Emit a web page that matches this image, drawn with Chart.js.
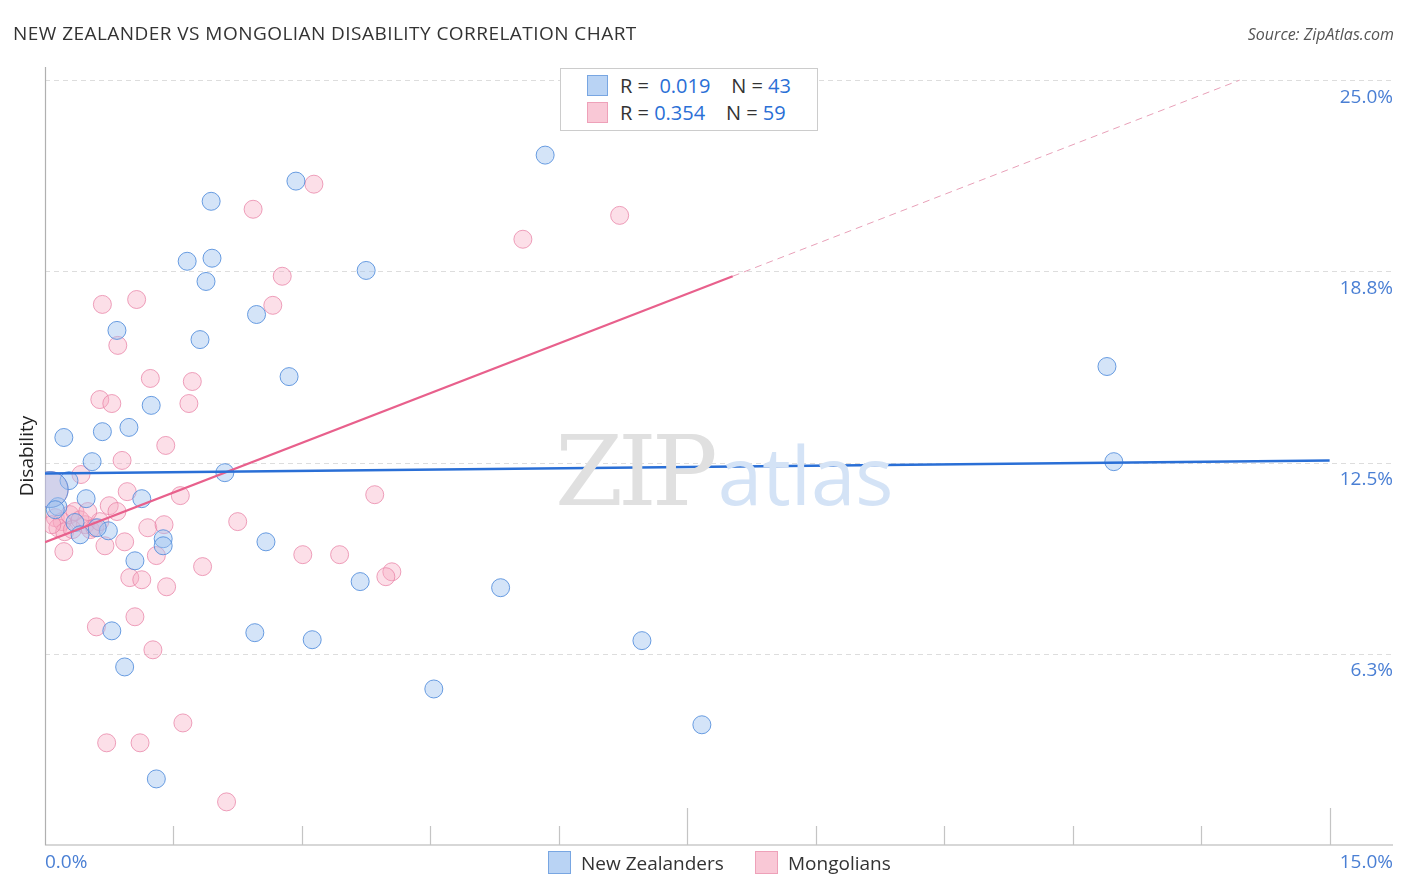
<!DOCTYPE html>
<html><head><meta charset="utf-8">
<script src="https://cdn.jsdelivr.net/npm/chart.js@4.4.0/dist/chart.umd.min.js"></script>
<style>
html,body{margin:0;padding:0;background:#fff;width:1406px;height:892px;overflow:hidden;font-family:"Open Sans",sans-serif;}
#wrap{position:absolute;left:0;top:0;width:1406px;height:892px;}
.abs{position:absolute;white-space:nowrap;}
#title{left:13px;top:20px;font-size:19px;color:#333;letter-spacing:0.45px;}
#source{right:12px;top:23px;font-size:16px;color:#555;font-style:italic;}
#stats{left:560px;top:68px;width:256px;height:61px;border:1px solid #ccc;background:#fff;}
.row{position:absolute;left:26px;font-size:20px;color:#333;}
.sq{display:inline-block;width:19px;height:19px;vertical-align:-3px;margin-right:12px;}
.v{color:#2a6fd6;}
#wm{left:555px;top:400px;font-size:98px;}
#legend{left:0;top:850px;width:1406px;}
.li{position:absolute;font-size:19px;color:#333;}
.lsq{display:inline-block;width:21px;height:21px;vertical-align:-4px;margin-right:10px;}
</style></head>
<body><div id="wrap">
<canvas id="c" width="1406" height="892"></canvas>
<div id="wm" class="abs"><span style="font-family:'DejaVu Serif',serif;color:#e0e0e0;letter-spacing:-5px;">ZIP</span><span style="font-family:'Open Sans',sans-serif;color:#d4e3f6;font-weight:400;font-size:80px;margin-left:5px;">atlas</span></div>
<div id="title" class="abs">NEW ZEALANDER VS MONGOLIAN DISABILITY CORRELATION CHART</div>
<div id="source" class="abs">Source: ZipAtlas.com</div>
<div id="stats" class="abs">
 <div class="row" style="top:3px;"><span class="sq" style="background:#b9d3f4;border:1px solid #78a6e2;"></span>R = &nbsp;<span class="v">0.019</span>&nbsp;&nbsp;&nbsp; N = <span class="v">43</span></div>
 <div class="row" style="top:30px;"><span class="sq" style="background:#f9c8d6;border:1px solid #eea1b9;"></span>R = <span class="v">0.354</span>&nbsp;&nbsp;&nbsp; N = <span class="v">59</span></div>
</div>
<div id="legend" class="abs">
 <div class="li" style="left:548px;"><span class="lsq" style="background:#b9d3f4;border:1px solid #78a6e2;"></span>New Zealanders</div>
 <div class="li" style="left:755px;"><span class="lsq" style="background:#f9c8d6;border:1px solid #eea1b9;"></span>Mongolians</div>
</div>
</div>
<script>
// ---- data (percent) ----
const nzX = [5.84,2.93,1.94,1.66,1.95,1.88,3.75,0.84,1.81,2.47,12.40,2.85,1.24,0.22,0.67,0.98,0.55,2.10,12.48,0.28,0.48,1.13,0.15,0.35,0.74,0.41,1.38,1.38,2.58,1.05,3.68,5.32,0.78,2.45,3.12,6.97,0.93,4.54,7.67,1.30,0.06,0.12,0.61];
const nzY = [22.55,21.70,21.04,19.08,19.18,18.42,18.78,16.82,16.52,17.34,15.64,15.31,14.37,13.32,13.51,13.65,12.53,12.17,12.53,11.91,11.32,11.32,11.06,10.54,10.27,10.14,10.01,9.78,9.91,9.29,8.61,8.41,7.00,6.94,6.71,6.68,5.82,5.10,3.93,2.16,11.62,10.96,10.37];
const nzR = [9,9,9,9,9,9,9,9,9,9,9,9,9,9,9,9,9,9,9,9,9,9,9,9,9,9,9,9,9,9,9,9,9,9,9,9,9,9,9,9,18,9,9];
const mnX = [3.14,2.43,6.71,5.58,2.77,2.66,0.67,1.07,0.85,1.23,1.72,0.64,0.78,1.68,1.41,0.90,0.42,0.96,1.58,3.85,0.75,0.84,2.25,1.20,1.39,0.70,0.93,1.30,0.22,1.84,3.01,3.44,0.99,1.13,1.42,1.05,0.60,1.26,1.61,0.72,1.11,2.12,4.05,3.98,0.06,0.12,0.20,0.29,0.35,0.47,0.53,0.15,0.23,0.58,0.64,0.32,0.08,0.41,0.50];
const mnY = [21.60,20.78,20.58,19.80,18.59,17.64,17.67,17.83,16.33,15.25,15.15,14.56,14.43,14.43,13.06,12.57,12.11,11.55,11.42,11.45,11.09,10.90,10.57,10.37,10.47,9.78,9.91,9.46,9.59,9.10,9.49,9.49,8.74,8.67,8.44,7.46,7.13,6.38,3.99,3.34,3.34,1.41,8.93,8.77,11.62,10.70,10.57,10.80,10.90,10.47,10.31,10.37,10.24,10.37,10.57,10.31,10.47,10.63,10.90];
const mnR = mnX.map((v,i)=> i===44 ? 18 : 9);
const nzTrendX = [0, 15];
const nzTrendY = [12.14, 12.57];
const mnTrendX = [0, 8.03];
const mnTrendY = [9.90, 18.59];
const mnDashX = [8.03, 13.95];
const mnDashY = [18.59, 25.0];
const yTicks = [6.25, 12.5, 18.75, 25.0];
const yTickLabels = ["6.3%", "12.5%", "18.8%", "25.0%"];
const xTicks = [0,1.5,3,4.5,6,7.5,9,10.5,12,13.5,15];
const xMin = 0, xMax = 15.74, yMin = 0, yMax = 25.43;

const pts = (xs, ys) => xs.map((x,i)=>({x, y: ys[i]}));

const axesPlugin = {
  id: 'axesPlugin',
  beforeDatasetsDraw(chart){
    const {ctx, chartArea:a, scales:{x, y}} = chart;
    ctx.save();
    ctx.strokeStyle = '#dddddd'; ctx.lineWidth = 1; ctx.setLineDash([5,4]);
    yTicks.forEach(t=>{ const py = Math.round(y.getPixelForValue(t))+0.5; ctx.beginPath(); ctx.moveTo(a.left, py); ctx.lineTo(a.right, py); ctx.stroke(); });
    ctx.setLineDash([]);
    ctx.strokeStyle = '#b0b0b0'; ctx.lineWidth = 1.2;
    ctx.beginPath(); ctx.moveTo(a.left+0.5, a.top); ctx.lineTo(a.left+0.5, a.bottom); ctx.lineTo(a.right, a.bottom); ctx.stroke();
    ctx.strokeStyle = '#c4c4c4'; ctx.lineWidth = 1.2;
    xTicks.forEach((t,i)=>{ if(i===0) return; const px = Math.round(x.getPixelForValue(t))+0.5; const len = (i%5===0)?37:19; ctx.beginPath(); ctx.moveTo(px, a.bottom); ctx.lineTo(px, a.bottom-len); ctx.stroke(); });
    ctx.restore();
  },
  afterDraw(chart){
    const {ctx, chartArea:a, scales:{x, y}} = chart;
    ctx.save();
    ctx.fillStyle = '#4a7fd4'; ctx.font = '19px "Open Sans", sans-serif';
    ctx.textAlign = 'right'; ctx.textBaseline = 'middle';
    yTicks.forEach((t,i)=>{ ctx.fillText(yTickLabels[i], a.right, y.getPixelForValue(t)+17); });
    ctx.textAlign = 'left'; ctx.fillText('0.0%', x.getPixelForValue(0), a.bottom+18);
    ctx.textAlign = 'right'; ctx.fillText('15.0%', a.right, a.bottom+18);
    ctx.fillStyle = '#222'; ctx.font = '19px "Open Sans", sans-serif';
    ctx.translate(28, (a.top+a.bottom)/2); ctx.rotate(-Math.PI/2);
    ctx.textAlign = 'center'; ctx.fillText('Disability', 0, 0);
    ctx.restore();
  }
};

new Chart(document.getElementById('c'), {
  type: 'scatter',
  data: { datasets: [
    { label:'nzTrend', type:'line', data: pts(nzTrendX, nzTrendY), borderColor:'#2a6fd6', borderWidth:2.5, pointRadius:0, fill:false, order:0 },
    { label:'mnTrend', type:'line', data: pts(mnTrendX, mnTrendY), borderColor:'#e8608c', borderWidth:2.2, pointRadius:0, fill:false, order:0 },
    { label:'mnDash', type:'line', data: pts(mnDashX, mnDashY), borderColor:'#e8a0b8', borderWidth:1, borderDash:[7,5], pointRadius:0, fill:false, order:0 },
    { label:'Mongolians', data: pts(mnX, mnY), pointRadius: mnR, backgroundColor:'rgba(246,170,195,0.38)', borderColor:'rgba(232,130,165,0.75)', borderWidth:1, order:2 },
    { label:'New Zealanders', data: pts(nzX, nzY), pointRadius: nzR, backgroundColor:'rgba(160,195,240,0.45)', borderColor:'rgba(80,140,220,0.85)', borderWidth:1, order:1 }
  ]},
  options: {
    responsive:false, animation:false, devicePixelRatio:1,
    layout:{ autoPadding:false, padding:{ left:45, right:13, top:67, bottom:47 } },
    plugins:{ legend:{display:false}, tooltip:{enabled:false} },
    scales:{
      x:{ type:'linear', min:xMin, max:xMax, display:false },
      y:{ type:'linear', min:yMin, max:yMax, display:false }
    }
  },
  plugins:[axesPlugin]
});
</script>
</body></html>
